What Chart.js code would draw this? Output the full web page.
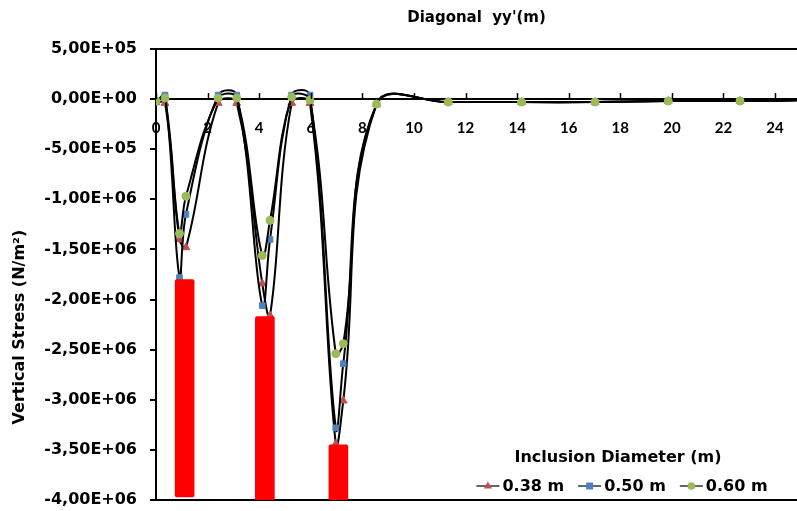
<!DOCTYPE html>
<html>
<head>
<meta charset="utf-8">
<script src="https://cdn.jsdelivr.net/npm/chart.js@4.4.1/dist/chart.umd.min.js"></script>
<style>
  html, body { margin: 0; padding: 0; background: #fff; }
  #wrap { width: 797px; height: 511px; }
</style>
</head>
<body>
<div id="wrap"><canvas id="stressChart" width="797" height="511"></canvas></div>
<script>
// diagonal distance yy' (m)
const distance = [0, 0.35, 0.91, 1.16, 2.41, 3.13, 4.12, 4.42, 5.26, 5.97, 6.97, 7.26, 8.55, 11.33, 14.17, 17.02, 19.86, 22.64, 25.45];

// vertical stress (N/m2) for each inclusion diameter
const stress038 = [-0.03e6, -0.04e6, -1.40e6, -1.48e6, -0.04e6, -0.04e6, -1.84e6, -2.16e6, -0.04e6, -0.04e6, -3.44e6, -3.01e6, -0.05e6, -0.03e6, -0.03e6, -0.03e6, -0.02e6, -0.02e6, -0.01e6];
const stress050 = [-0.03e6, 0.04e6, -1.78e6, -1.15e6, 0.04e6, 0.04e6, -2.06e6, -1.40e6, 0.04e6, 0.04e6, -3.28e6, -2.64e6, -0.05e6, -0.03e6, -0.03e6, -0.03e6, -0.02e6, -0.02e6, -0.01e6];
const stress060 = [-0.02e6, 0.01e6, -1.34e6, -0.97e6, 0.01e6, 0.01e6, -1.56e6, -1.21e6, 0.02e6, -0.01e6, -2.54e6, -2.44e6, -0.05e6, -0.03e6, -0.03e6, -0.03e6, -0.02e6, -0.02e6, -0.01e6];

// red blocks marking the inclusions
const inclusionX = [1.11, 4.22, 7.07];
const inclusionTop = [-1.80e6, -2.17e6, -3.45e6];
const inclusionBottom = [-3.97e6, -4.0e6, -4.0e6];

const seriesNames = ['0.38 m', '0.50 m', '0.60 m'];
const xTicks = [0, 2, 4, 6, 8, 10, 12, 14, 16, 18, 20, 22, 24];
const yTicks = [5e5, 0, -5e5, -1e6, -1.5e6, -2e6, -2.5e6, -3e6, -3.5e6, -4e6];

const BOLD = 'bold 16px "DejaVu Sans"';

function sciComma(v) {
  if (v === 0) return '0,00E+00';
  const e = Math.floor(Math.log10(Math.abs(v)) + 1e-9);
  const m = v / Math.pow(10, e);
  return m.toFixed(2).replace('.', ',') + 'E' + (e < 0 ? '-' : '+') + String(Math.abs(e)).padStart(2, '0');
}

function toPoints(ys) {
  return distance.map((x, i) => ({ x: x, y: ys[i] }));
}

function lineSet(label, ys, style, color, order) {
  return {
    type: 'line',
    label: label,
    data: toPoints(ys),
    borderColor: '#000',
    borderWidth: 2,
    tension: 0.4,
    fill: false,
    pointStyle: style,
    pointRadius: style === 'triangle' ? 4.5 : 4,
    pointBackgroundColor: color,
    pointBorderColor: color,
    pointBorderWidth: 1,
    order: order
  };
}

function drawMarker(ctx, style, color, x, y) {
  ctx.fillStyle = color;
  ctx.beginPath();
  if (style === 'triangle') {
    ctx.moveTo(x, y - 4.5);
    ctx.lineTo(x + 4, y + 2.5);
    ctx.lineTo(x - 4, y + 2.5);
    ctx.closePath();
  } else if (style === 'rect') {
    ctx.rect(x - 3.5, y - 3.5, 7, 7);
  } else {
    ctx.arc(x, y, 3.8, 0, Math.PI * 2);
  }
  ctx.fill();
}

// tick marks pointing up from the x axis, y title, and the inside legend
const extras = {
  id: 'extras',
  afterDraw(chart) {
    const ctx = chart.ctx;
    const xs = chart.scales.x;
    const ys = chart.scales.y;
    const area = chart.chartArea;
    const y0 = ys.getPixelForValue(0);

    ctx.save();
    ctx.strokeStyle = '#000';
    ctx.lineWidth = 1.5;
    xTicks.forEach(v => {
      const px = Math.round(xs.getPixelForValue(v)) + 0.5;
      ctx.beginPath();
      ctx.moveTo(px, y0);
      ctx.lineTo(px, y0 - 6);
      ctx.stroke();
    });

    // y axis title
    ctx.translate(20, 327);
    ctx.rotate(-Math.PI / 2);
    ctx.font = BOLD;
    ctx.fillStyle = '#000';
    ctx.textAlign = 'center';
    ctx.textBaseline = 'middle';
    ctx.fillText('Vertical Stress (N/m\u00B2)', 0, 0);
    ctx.restore();

    // legend
    ctx.save();
    ctx.font = BOLD;
    ctx.fillStyle = '#000';
    ctx.textAlign = 'center';
    ctx.textBaseline = 'middle';
    ctx.fillText('Inclusion Diameter (m)', area.right - 179, area.bottom - 42);

    const sets = [chart.data.datasets[0], chart.data.datasets[1], chart.data.datasets[2]];
    const iconW = 23, gap = 3, itemGap = 14;
    let total = 0;
    sets.forEach((d, i) => { total += iconW + gap + ctx.measureText(seriesNames[i]).width; });
    total += itemGap * (sets.length - 1);
    let x = area.right - 175 - total / 2;
    const ly = area.bottom - 14;
    ctx.textAlign = 'left';
    sets.forEach((d, i) => {
      ctx.strokeStyle = '#333';
      ctx.lineWidth = 1.5;
      ctx.beginPath();
      ctx.moveTo(x, ly);
      ctx.lineTo(x + iconW, ly);
      ctx.stroke();
      drawMarker(ctx, d.pointStyle, d.pointBackgroundColor, x + iconW / 2, ly);
      ctx.fillStyle = '#000';
      ctx.fillText(seriesNames[i], x + iconW + gap, ly + 1);
      x += iconW + gap + ctx.measureText(seriesNames[i]).width + itemGap;
    });
    ctx.restore();
  }
};

const ctx = document.getElementById('stressChart').getContext('2d');

const stressChart = new Chart(ctx, {
  type: 'scatter',
  data: {
    datasets: [
      lineSet(seriesNames[0], stress038, 'triangle', '#C0504D', 3),
      lineSet(seriesNames[1], stress050, 'rect', '#4F81BD', 2),
      lineSet(seriesNames[2], stress060, 'circle', '#9BBB59', 1),
      {
        type: 'bar',
        label: 'Inclusion',
        data: inclusionX.map((x, i) => ({ x: x, y: [inclusionBottom[i], inclusionTop[i]] })),
        backgroundColor: '#FF0000',
        barThickness: 19,
        borderRadius: 2,
        borderSkipped: false,
        order: 0
      }
    ]
  },
  options: {
    responsive: false,
    animation: false,
    devicePixelRatio: 1,
    layout: { autoPadding: false, padding: { left: 0, top: 0, right: 0, bottom: 11 } },
    plugins: {
      legend: { display: false },
      tooltip: { enabled: false }
    },
    scales: {
      x: {
        type: 'linear',
        position: { y: 0 },
        min: 0,
        max: 24.85,
        offset: false,
        afterFit: s => { s.height = 0; s.paddingLeft = 0; s.paddingRight = 0; },
        afterBuildTicks: s => { s.ticks = xTicks.map(v => ({ value: v })); },
        grid: { drawOnChartArea: false, drawTicks: false, offset: false },
        border: { display: true, color: '#000', width: 2 },
        ticks: {
          padding: 20,
          color: '#000',
          maxRotation: 0,
          font: { family: 'Lato', weight: 'bold', size: 15 }
        }
      },
      x2: {
        type: 'linear',
        position: 'top',
        afterFit: s => { s.height = 49; s.paddingLeft = 0; s.paddingRight = 0; },
        grid: { display: false },
        border: { display: false },
        ticks: { display: false },
        title: {
          display: true,
          text: "Diagonal  yy'(m)",
          color: '#000',
          font: { family: 'DejaVu Sans', weight: 'bold', size: 15 },
          padding: { top: 9, bottom: 0 }
        }
      },
      y: {
        min: -4e6,
        max: 5e5,
        afterFit: s => { s.width = 156; s.paddingTop = 0; s.paddingBottom = 0; },
        afterBuildTicks: s => { s.ticks = yTicks.map(v => ({ value: v })); },
        grid: {
          color: c => (c.tick && (c.tick.value === 5e5 || c.tick.value === -4e6)) ? '#000' : 'rgba(0,0,0,0)',
          lineWidth: 2,
          tickColor: '#000',
          tickLength: 6
        },
        border: { display: true, color: '#000', width: 2 },
        ticks: {
          padding: 13,
          color: '#000',
          font: { family: 'DejaVu Sans', weight: 'bold', size: 16 },
          callback: v => sciComma(v)
        }
      }
    }
  },
  plugins: [extras]
});
</script>
</body>
</html>
